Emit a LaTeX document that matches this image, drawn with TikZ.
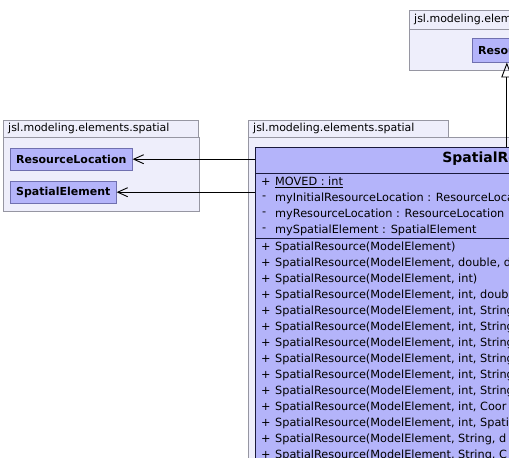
\documentclass[tikz,border=0pt]{standalone}
\usepackage{fontspec}
\setmainfont{DejaVu Sans}
\usepackage{tikz}
\usetikzlibrary{arrows.meta,positioning}

\definecolor{pkgfill}{RGB}{238,238,251}
\definecolor{pkgline}{RGB}{150,150,162}
\definecolor{clsfill}{RGB}{180,180,250}
\definecolor{clsline}{RGB}{112,112,175}
\definecolor{clsdark}{RGB}{25,25,60}

\tikzset{
  pkgtab/.style={draw=pkgline,fill=pkgfill,anchor=north west,inner xsep=5pt,inner ysep=0pt,
    align=left,font=\fontsize{11}{13}\selectfont},
  pkgbody/.style={draw=pkgline,fill=pkgfill,anchor=north west,inner sep=0pt},
  clsref/.style={draw=clsline,fill=clsfill,anchor=north west,inner xsep=6pt,inner ysep=0pt,
    font=\fontsize{11}{13}\selectfont\bfseries},
  clsbox/.style={draw=clsdark,fill=clsfill,anchor=north west,inner sep=0pt,line width=0.9pt},
  clstitle/.style={inner sep=0pt,font=\fontsize{14}{16}\selectfont\bfseries},
  member/.style={anchor=west,inner sep=0pt,font=\fontsize{11.3}{13}\selectfont},
  clssep/.style={draw=clsdark,line width=0.9pt},
  assoc/.style={draw=black,line width=0.9pt,-{Straight Barb[length=10pt,width=9pt,line width=0.9pt]}},
  inherit/.style={draw=black,line width=0.9pt,-{Triangle[open,length=15pt,width=11pt,line width=0.9pt]}}
}

\newcommand{\visminus}{\raisebox{1.5pt}{-}}

\begin{document}
\begin{tikzpicture}[x=1pt,y=-1pt]
  \useasboundingbox (0,0) rectangle (509,458);
  \clip (0,0) rectangle (509,458);
  \fill[white] (0,0) rectangle (509,458);

  % packages
  \node[pkgbody,minimum width=200pt,minimum height=41pt] (pkgTopBody) at (409,29) {};
  \node[pkgtab,text width=190pt,minimum height=19pt] (pkgTop) at (409,10) {jsl.modeling.elements};
  \node[pkgbody,minimum width=196pt,minimum height=74pt] (pkgLeftBody) at (3,137) {};
  \node[pkgtab,text width=185pt,minimum height=17pt] (pkgLeft) at (3,120) {jsl.modeling.elements.spatial};
  \node[pkgbody,minimum width=360pt,minimum height=340pt] (pkgMidBody) at (248,137) {};
  \node[pkgtab,text width=190pt,minimum height=17pt] (pkgMid) at (248,120) {jsl.modeling.elements.spatial};

  % referenced classes
  \node[clsref,minimum height=24pt] (res) at (472,38) {Resource};
  \node[clsref,minimum height=22pt] (rl) at (10,148) {ResourceLocation};
  \node[clsref,minimum height=22pt] (se) at (10,181) {SpatialElement};

  % the class
  \node[clsbox,minimum width=502pt,minimum height=330pt] (cls) at (255,147) {};
  \node[clstitle,below=5pt of cls.north] (clsName) {SpatialResource};
  \draw[clssep] ([yshift=-26pt]cls.north west) -- ([yshift=-26pt]cls.north east);
  \draw[clssep] ([yshift=-91pt]cls.north west) -- ([yshift=-91pt]cls.north east);

  % fields
  \node[member] (f1v) at (261,182) {+};
  \node[member] (f1) at (275,182) {\underline{MOVED : int}};
  \foreach \txt [count=\i] in {myInitialResourceLocation : ResourceLocation,
      myResourceLocation : ResourceLocation, mySpatialElement : SpatialElement}{
    \node[member] (f\i v) at (262,182+16*\i) {\visminus};
    \node[member] (f\i n) at (275,182+16*\i) {\txt};
  }

  % operations
  \foreach \txt [count=\i] in {
      {SpatialResource(ModelElement)},
      {SpatialResource(ModelElement, double, d},
      {SpatialResource(ModelElement, int)},
      {SpatialResource(ModelElement, int, double},
      {SpatialResource(ModelElement, int, String},
      {SpatialResource(ModelElement, int, String},
      {SpatialResource(ModelElement, int, String},
      {SpatialResource(ModelElement, int, String},
      {SpatialResource(ModelElement, int, String},
      {SpatialResource(ModelElement, int, String},
      {SpatialResource(ModelElement, int, Coor},
      {SpatialResource(ModelElement, int, Spati},
      {SpatialResource(ModelElement, String, d},
      {SpatialResource(ModelElement, String, C}}{
    \node[member] (m\i v) at (261,231+16*\i) {+};
    \node[member] (m\i) at (275,231+16*\i) {\txt};
  }

  % connectors
  \draw[assoc] (cls.west |- rl.east) -- (rl.east);
  \draw[assoc] (cls.west |- se.east) -- (se.east);
  \draw[inherit] (cls.north -| res.south) -- (res.south);
\end{tikzpicture}
\end{document}
